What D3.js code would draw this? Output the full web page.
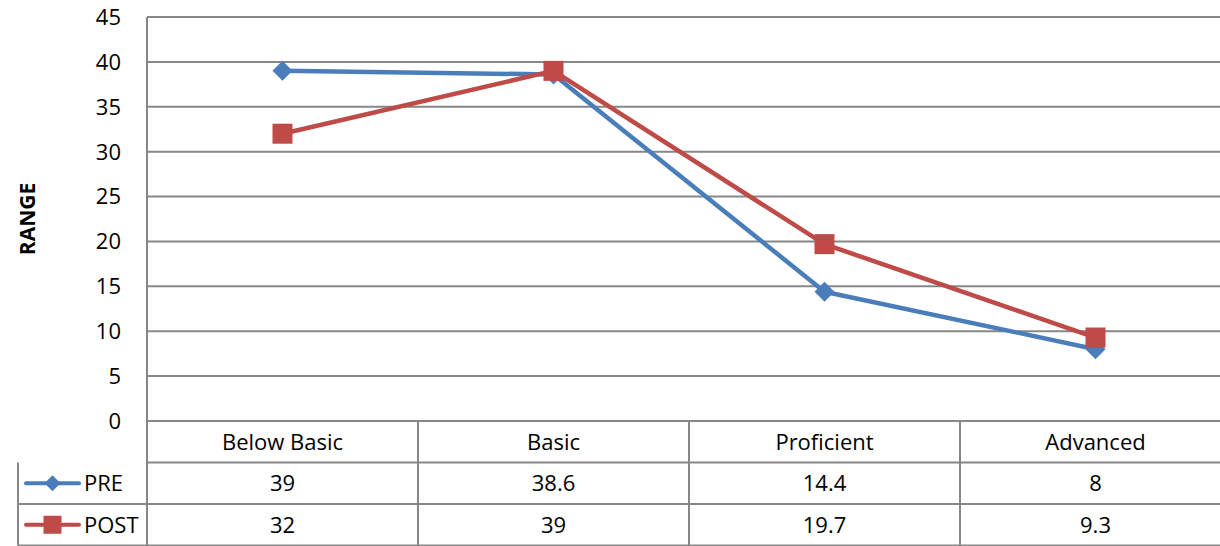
<!DOCTYPE html>
<html lang="en">
<head>
<meta charset="UTF-8">
<title>PRE / POST range</title>
<script src="https://d3js.org/d3.v7.min.js"></script>
<style>
  body { margin: 0; background: #fff; }
  text { font-family: "Open Sans", "Noto Sans", sans-serif; fill: #000; }
</style>
</head>
<body>
<div id="chart"></div>
<script>
var categories = ["Below Basic", "Basic", "Proficient", "Advanced"];
var seriesNames = ["PRE", "POST"];
var preValues = [39, 38.6, 14.4, 8];
var postValues = [32, 39, 19.7, 9.3];
var yTicks = [0, 5, 10, 15, 20, 25, 30, 35, 40, 45];

var width = 1220, height = 546;
var plotLeft = 147, plotRight = 1231, plotTop = 17, plotBottom = 421;
var rowH = 41.5;
var legendLeft = 18;
var grid = "#878787";
var fontSize = "22px";
var colors = { PRE: "#4A7EBB", POST: "#BE4B48" };

var svg = d3.select("#chart").append("svg")
  .attr("width", width).attr("height", height);

var x = d3.scaleBand().domain(categories).range([plotLeft, plotRight]);
var y = d3.scaleLinear().domain([0, 45]).range([plotBottom, plotTop]);

// horizontal gridlines
svg.append("g").selectAll("line").data(yTicks).enter().append("line")
  .attr("x1", plotLeft).attr("x2", plotRight)
  .attr("y1", d => y(d)).attr("y2", d => y(d))
  .attr("stroke", grid).attr("stroke-width", 2);

// y axis line
svg.append("line").attr("x1", plotLeft).attr("x2", plotLeft)
  .attr("y1", plotTop).attr("y2", plotBottom + rowH * 3)
  .attr("stroke", grid).attr("stroke-width", 2);

// y tick labels
svg.append("g").selectAll("text").data(yTicks).enter().append("text")
  .attr("x", 121).attr("y", d => y(d))
  .attr("dy", "0.36em").attr("text-anchor", "end")
  .style("font-size", fontSize).text(d => d);

// y axis title
svg.append("text")
  .attr("transform", "translate(35," + 219 + ") rotate(-90)")
  .attr("text-anchor", "middle")
  .style("font-size", "21px").style("font-weight", "bold")
  .text("RANGE");

// data table
var tbl = svg.append("g");
[1, 2, 3].forEach(function (r) {
  tbl.append("line")
    .attr("x1", r === 1 ? plotLeft : legendLeft).attr("x2", plotRight)
    .attr("y1", plotBottom + rowH * r).attr("y2", plotBottom + rowH * r)
    .attr("stroke", grid).attr("stroke-width", 2);
});
tbl.append("line").attr("x1", legendLeft).attr("x2", legendLeft)
  .attr("y1", plotBottom + rowH).attr("y2", plotBottom + rowH * 3)
  .attr("stroke", grid).attr("stroke-width", 2);
tbl.selectAll(".col").data(categories.slice(1)).enter().append("line")
  .attr("x1", d => x(d)).attr("x2", d => x(d))
  .attr("y1", plotBottom).attr("y2", plotBottom + rowH * 3)
  .attr("stroke", grid).attr("stroke-width", 2);

tbl.selectAll(".cat").data(categories).enter().append("text")
  .attr("x", d => x(d) + x.bandwidth() / 2)
  .attr("y", plotBottom + rowH / 2).attr("dy", "0.36em")
  .attr("text-anchor", "middle").style("font-size", fontSize)
  .text(d => d);

var allSeries = [preValues, postValues];
allSeries.forEach(function (vals, si) {
  var rowY = plotBottom + rowH * (si + 1.5);
  tbl.selectAll(".v" + si).data(vals).enter().append("text")
    .attr("x", (d, i) => x(categories[i]) + x.bandwidth() / 2)
    .attr("y", rowY).attr("dy", "0.36em")
    .attr("text-anchor", "middle").style("font-size", fontSize)
    .text(d => d);
});

// diamond for PRE, square for POST
function marker(g, name, cx, cy, s) {
  if (name === "PRE") {
    g.append("path")
      .attr("d", "M0," + (-s / 2) + "L" + (s / 2) + ",0L0," + (s / 2) + "L" + (-s / 2) + ",0Z")
      .attr("transform", "translate(" + cx + "," + cy + ")")
      .attr("fill", colors[name]);
  } else {
    g.append("rect").attr("x", cx - s / 2).attr("y", cy - s / 2)
      .attr("width", s).attr("height", s).attr("fill", colors[name]);
  }
}

// legend keys
seriesNames.forEach(function (name, si) {
  var rowY = plotBottom + rowH * (si + 1.5);
  tbl.append("line").attr("x1", 26).attr("x2", 79)
    .attr("y1", rowY).attr("y2", rowY)
    .attr("stroke", colors[name]).attr("stroke-width", 4)
    .attr("stroke-linecap", "round");
  marker(tbl, name, 52.5, rowY, name === "PRE" ? 16 : 18);
  tbl.append("text").attr("x", 84).attr("y", rowY).attr("dy", "0.36em")
    .style("font-size", fontSize).text(name);
});

// series lines
var line = d3.line()
  .x((d, i) => x(categories[i]) + x.bandwidth() / 2)
  .y(d => y(d));

allSeries.forEach(function (vals, si) {
  var name = seriesNames[si];
  var g = svg.append("g");
  g.append("path").datum(vals).attr("d", line)
    .attr("fill", "none").attr("stroke", colors[name])
    .attr("stroke-width", 4.5).attr("stroke-linejoin", "round");
  vals.forEach(function (v, i) {
    marker(g, name, x(categories[i]) + x.bandwidth() / 2, y(v), 20);
  });
});
</script>
</body>
</html>
